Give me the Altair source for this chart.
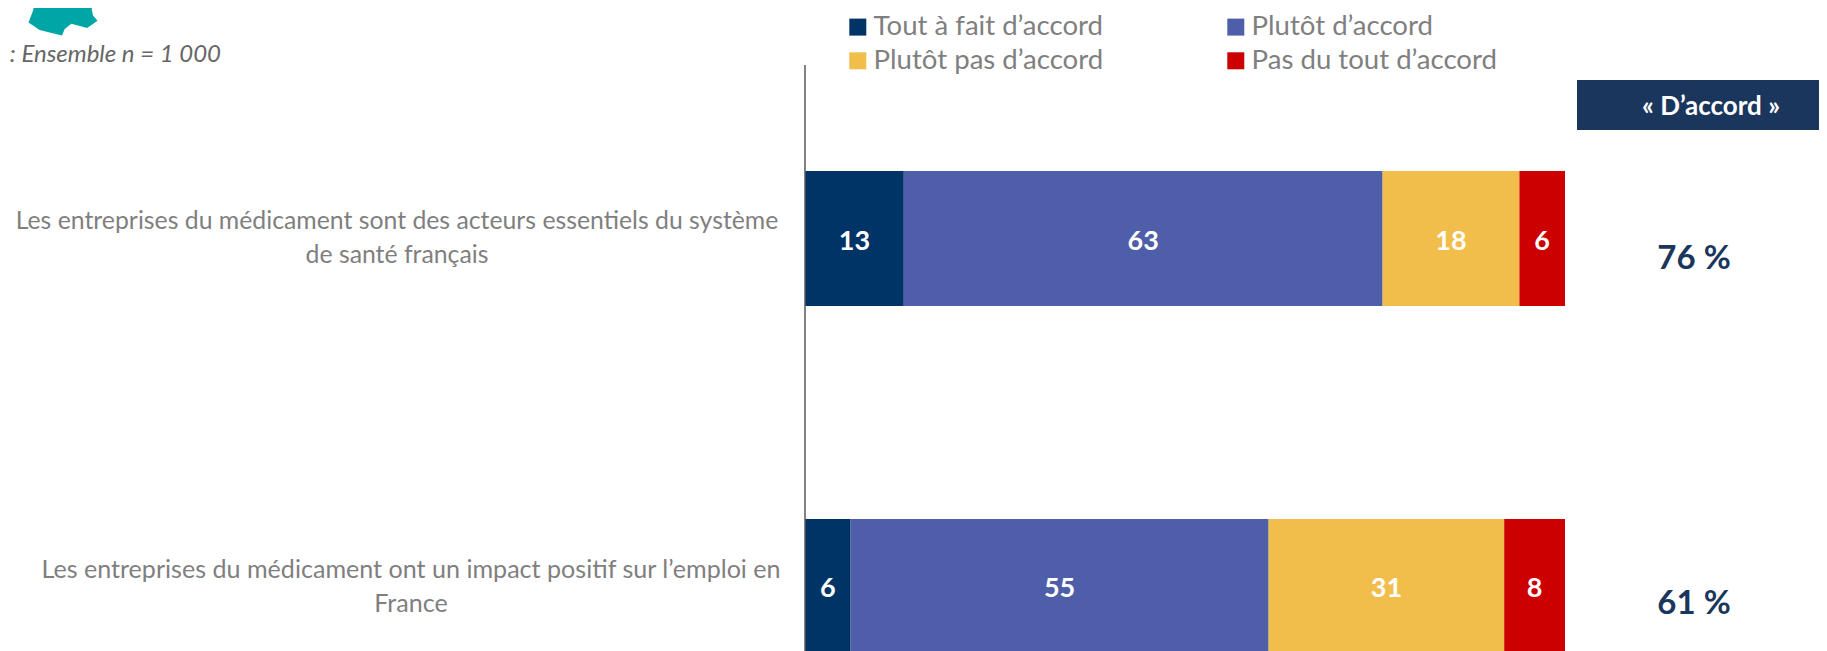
import altair as alt
import pandas as pd

questions = ["q1", "q2"]
question_lines = [
    ["Les entreprises du médicament sont des acteurs essentiels du système", "de santé français"],
    ["Les entreprises du médicament ont un impact positif sur l’emploi en", "France"],
]
series = ["Tout à fait d’accord", "Plutôt d’accord", "Plutôt pas d’accord", "Pas du tout d’accord"]
colors = ["#003366", "#4F5EA8", "#F1BE4B", "#CC0000"]
values = [[13, 63, 18, 6], [6, 55, 31, 8]]
agree = ["76 %", "61 %"]
header = "« D’accord »"
base_text = ": Ensemble n = 1 000"
FONT = "Lato"
GREY = "#7F7F7F"
NAVY = "#1B365D"

rows = []
for q, vals in zip(questions, values):
    cum = 0
    for i, (s, v) in enumerate(zip(series, vals)):
        rows.append(dict(q=q, s=s, order=i, v=v, start=cum, end=cum + v, mid=cum + v / 2))
        cum += v
df = pd.DataFrame(rows)

W, H = 1811, 643
ZERO, UNIT = 797, 7.6
xscale = alt.Scale(domain=[-ZERO / UNIT, (W - ZERO) / UNIT], range=[0, W], nice=False, zero=False)
yscale = alt.Scale(domain=questions, range=[163, 646], paddingInner=0.612, paddingOuter=0)

X = alt.X("start:Q", scale=xscale, axis=None)
Y = alt.Y("q:N", scale=yscale, axis=None, sort=questions)

bars = alt.Chart(df).mark_bar(cornerRadius=0).encode(
    x=X,
    x2="end:Q",
    y=Y,
    color=alt.Color(
        "s:N",
        scale=alt.Scale(domain=series, range=colors),
        sort=series,
        legend=alt.Legend(
            title=None, orient="none", legendX=836, legendY=5, columns=2, direction="horizontal",
            symbolType="square", symbolSize=289, symbolStrokeWidth=0, symbolOpacity=1,
            labelFont=FONT, labelFontSize=27.6, labelColor=GREY,
            labelOffset=2, columnPadding=103, rowPadding=5, labelLimit=400, gridAlign="all",
        ),
    ),
)

bar_labels = alt.Chart(df).mark_text(font=FONT, fontSize=27, fontWeight="bold", color="white", dy=3).encode(
    x=alt.X("mid:Q", scale=xscale, axis=None),
    y=Y,
    text="v:Q",
)

axis_line = alt.Chart(pd.DataFrame({"x": [0]})).mark_rule(color="#595959", strokeWidth=1.5).encode(
    x=alt.X("x:Q", scale=xscale, axis=None),
    y=alt.value(57),
    y2=alt.value(H),
)

q_rows = pd.DataFrame({"q": questions, "lines": question_lines, "agree": agree})


def question_layer(q, cx, dy, size):
    return alt.Chart(q_rows[q_rows.q == q]).mark_text(
        font=FONT, fontSize=size, color=GREY, align="center", baseline="middle", lineHeight=34, dy=dy
    ).encode(x=alt.value(cx), y=Y, text="lines:N")


def agree_layer(q, dy):
    return alt.Chart(q_rows[q_rows.q == q]).mark_text(
        font=FONT, fontSize=33, fontWeight="bold", color=NAVY, dy=dy
    ).encode(x=alt.value(1686), y=Y, text="agree:N")


header_box = alt.Chart(pd.DataFrame({"t": [header]})).mark_rect(color=NAVY).encode(
    x=alt.value(1569), x2=alt.value(W), y=alt.value(72), y2=alt.value(122)
)
header_text = alt.Chart(pd.DataFrame({"t": [header]})).mark_text(
    font=FONT, fontSize=26, fontWeight="bold", color="white"
).encode(x=alt.value(1703), y=alt.value(99), text="t:N")

base = alt.Chart(pd.DataFrame({"t": [base_text]})).mark_text(
    font=FONT, fontSize=24, fontStyle="italic", color="#666666", align="right"
).encode(x=alt.value(213), y=alt.value(47), text="t:N")

BLOB = ("M-0.73,-0.8 L-0.87,-0.21 L-1,0.13 L-0.68,0.35 L-0.03,0.51 L0.05,0.32 L0.24,0.17 "
        "L0.7,0.29 L1,0.08 L0.87,-0.07 L0.83,-0.26 L0.9,-0.36 L0.83,-0.8 Z")
blob = alt.Chart(pd.DataFrame({"t": ["map"]})).mark_point(filled=True, opacity=1, color="#00A6A6").encode(
    x=alt.value(55), y=alt.value(10), shape=alt.value(BLOB), size=alt.value(4761)
)

chart = alt.layer(
    bars, bar_labels, axis_line,
    question_layer("q1", 389, -17, 24.8), question_layer("q2", 403, -16, 25.1),
    agree_layer("q1", 20), agree_layer("q2", 18),
    header_box, header_text, base, blob
).properties(
    width=W, height=H, padding=0, autosize=alt.AutoSizeParams(type="none"), background="white"
).configure_view(stroke=None)

chart.save("out.html", embed_options={"renderer": "svg", "actions": False})
